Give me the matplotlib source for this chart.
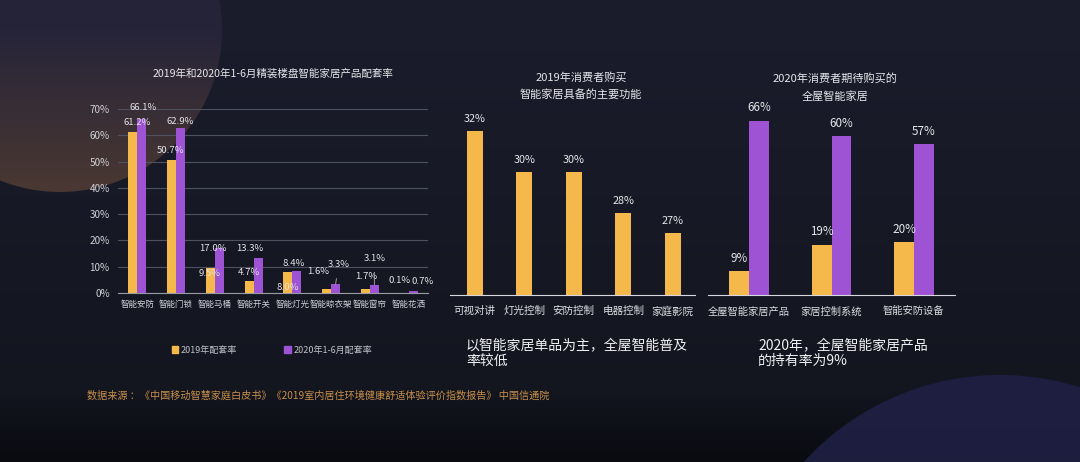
import matplotlib
matplotlib.use('Agg')
import matplotlib.pyplot as plt
import matplotlib.patches as mpatches
from matplotlib.colors import LinearSegmentedColormap
import numpy as np

plt.rcParams['font.family'] = ['Noto Sans CJK SC', 'DejaVu Sans']

# datos
productos = ['智能安防', '智能门锁', '智能马桶', '智能开关', '智能灯光', '智能晾衣架', '智能窗帘', '智能花洒']
tasa_2019 = [61.2, 50.7, 9.5, 4.7, 8.0, 1.6, 1.7, 0.1]
tasa_2020 = [66.1, 62.9, 17.0, 13.3, 8.4, 3.3, 3.1, 0.7]

funciones = ['可视对讲', '灯光控制', '安防控制', '电器控制', '家庭影院']
pct_funciones = [32, 30, 30, 28, 27]

sistemas = ['全屋智能家居产品', '家居控制系统', '智能安防设备']
pct_poseen = [9, 19, 20]
pct_esperan = [66, 60, 57]

W, H = 1080, 462
NARANJA = '#f5b84a'
MORADO = '#9d53d4'
GRIS = '#cfcfd6'

fig = plt.figure(figsize=(W / 100, H / 100), dpi=100)
fig.patch.set_facecolor('#151826')

# fondo
bg = fig.add_axes([0, 0, 1, 1], zorder=-10)
bg.set_xlim(0, W)
bg.set_ylim(H, 0)
bg.axis('off')
grad = np.linspace(0, 1, 256)[:, None]
cmap = LinearSegmentedColormap.from_list('fondo', [(0, '#1b1d2d'), (0.85, '#13151f'), (1.0, '#0a0b10')])
bg.imshow(grad, cmap=cmap, aspect='auto', extent=[0, W, H, 0])


def esfera(centro, radio, colores):
    cx, cy = centro
    circ = mpatches.Circle(centro, radio, transform=bg.transData, fc='none', lw=0)
    bg.add_patch(circ)
    im = bg.imshow(grad, cmap=LinearSegmentedColormap.from_list('e', colores), aspect='auto',
                   extent=[cx - radio, cx + radio, cy + radio, cy - radio])
    im.set_clip_path(circ)


esfera((60, 30), 162, ['#1f2036', '#262439', '#4a3832'])
esfera((1000, 640), 265, ['#1f1f42', '#1a1a38', '#15152c'])
bg.set_xlim(0, W)
bg.set_ylim(H, 0)


def caja_px(x0, y0, x1, y1):
    return [x0 / W, 1 - y1 / H, (x1 - x0) / W, (y1 - y0) / H]


def texto(x, y, s, **kw):
    fig.text(x / W, 1 - y / H, s, **kw)


def limpiar(ax):
    ax.set_facecolor('none')
    for lado in ['top', 'right', 'left']:
        ax.spines[lado].set_visible(False)


# ---- grafico 1 ----
ax1 = fig.add_axes(caja_px(118, 109, 428, 293))
limpiar(ax1)
ax1.spines['bottom'].set_color('#9a9aa2')
x = np.arange(len(productos))
ax1.bar(x - 0.115, tasa_2019, 0.23, color=NARANJA, zorder=3)
ax1.bar(x + 0.115, tasa_2020, 0.23, color=MORADO, zorder=3)
ax1.set_xlim(-0.5, len(productos) - 0.5)
ax1.set_ylim(0, 70)
ax1.set_yticks(range(0, 80, 10))
ax1.set_yticklabels([f'{v}%' for v in range(0, 80, 10)])
ax1.yaxis.grid(True, color='#4d5160', lw=0.8)
ax1.set_axisbelow(True)
ax1.set_xticks(x)
ax1.set_xticklabels(productos, fontsize=6.1)
ax1.tick_params(axis='y', colors=GRIS, labelsize=7.2, length=0, pad=6)
ax1.tick_params(axis='x', colors=GRIS, length=0, pad=5)

desp_2019 = [(4, 10), (-1, 9), (-1, -5), (0, 8), (0, -16), (-8, 17), (1, 12), (-5, 12)]
desp_2020 = [(1, 12), (0, 6), (-6, 0), (-8, 10), (-3, 7), (3, 20), (0, 26), (10, 10)]
for i, v in enumerate(tasa_2019):
    ax1.annotate(f'{v:.1f}%', (i - 0.115, v), xytext=desp_2019[i], textcoords='offset pixels',
                 ha='center', va='center', fontsize=6.9, color='#e2e2e6', zorder=5)
for i, v in enumerate(tasa_2020):
    guia = dict(arrowstyle='-', color='#a8a8b0', lw=0.6, shrinkA=5, shrinkB=0) if i in (5, 6) else None
    ax1.annotate(f'{v:.1f}%', (i + 0.115, v), xytext=desp_2020[i], textcoords='offset pixels',
                 ha='center', va='center', fontsize=6.9, color='#e2e2e6', zorder=5, arrowprops=guia)

texto(273, 74, '2019年和2020年1-6月精装楼盘智能家居产品配套率', ha='center', va='center',
      fontsize=7.6, color='#e6e6ea')
fig.legend(handles=[mpatches.Patch(color=NARANJA, label='2019年配套率'),
                    mpatches.Patch(color=MORADO, label='2020年1-6月配套率')],
           loc='center', bbox_to_anchor=(272 / W, 1 - 350 / H), ncol=2, frameon=False,
           fontsize=6.5, labelcolor='#c0c0c8', handlelength=0.7, handleheight=0.7,
           handletextpad=0.3, columnspacing=5.2)

# ---- grafico 2 ----
ax2 = fig.add_axes(caja_px(450, 110, 695, 295))
limpiar(ax2)
ax2.spines['bottom'].set_color('#d8d8de')
x2 = np.arange(len(funciones))
ax2.bar(x2, pct_funciones, 0.32, color=NARANJA)
ax2.set_xlim(-0.5, len(funciones) - 0.55)
ax2.set_ylim(24, 33)
ax2.set_yticks([])
ax2.set_xticks(x2)
ax2.set_xticklabels(funciones, fontsize=7.6)
ax2.tick_params(axis='x', colors='#dcdce2', length=0, pad=8)
for i, v in enumerate(pct_funciones):
    ax2.annotate(f'{v}%', (i, v), xytext=(0, 12), textcoords='offset pixels',
                 ha='center', va='center', fontsize=7.8, color='#e6e6ea')
texto(581, 77, '2019年消费者购买', ha='center', va='center', fontsize=8, color='#e6e6ea')
texto(581, 95, '智能家居具备的主要功能', ha='center', va='center', fontsize=8, color='#e6e6ea')
texto(466, 338, '以智能家居单品为主，全屋智能普及\n率较低', ha='left', va='top',
      fontsize=10, color='#f0f0f2', linespacing=1.2)

# ---- grafico 3 ----
ax3 = fig.add_axes(caja_px(708, 110, 955, 295))
limpiar(ax3)
ax3.spines['bottom'].set_color('#d8d8de')
x3 = np.arange(len(sistemas))
ax3.bar(x3 - 0.12, pct_poseen, 0.24, color=NARANJA)
ax3.bar(x3 + 0.12, pct_esperan, 0.24, color=MORADO)
ax3.set_xlim(-0.5, len(sistemas) - 0.5)
ax3.set_ylim(0, 70)
ax3.set_yticks([])
ax3.set_xticks(x3)
ax3.set_xticklabels(sistemas, fontsize=7.4)
ax3.tick_params(axis='x', colors='#dcdce2', length=0, pad=8)
for i, v in enumerate(pct_poseen):
    ax3.annotate(f'{v}%', (i - 0.12, v), xytext=(0, 13), textcoords='offset pixels',
                 ha='center', va='center', fontsize=8.4, color='#e6e6ea')
for i, v in enumerate(pct_esperan):
    ax3.annotate(f'{v}%', (i + 0.12, v), xytext=(0, 13), textcoords='offset pixels',
                 ha='center', va='center', fontsize=8.4, color='#e6e6ea')
texto(835, 78, '2020年消费者期待购买的', ha='center', va='center', fontsize=8, color='#e6e6ea')
texto(835, 97, '全屋智能家居', ha='center', va='center', fontsize=8, color='#e6e6ea')
texto(758, 338, '2020年，全屋智能家居产品\n的持有率为9%', ha='left', va='top',
      fontsize=10, color='#f0f0f2', linespacing=1.2)

# fuente
texto(87, 396, '数据来源 ：《中国移动智慧家庭白皮书》《2019室内居住环境健康舒适体验评价指数报告》 中国信通院',
      ha='left', va='center', fontsize=7.3, color='#c8904a')

plt.savefig('out.png', dpi=100, facecolor=fig.get_facecolor())
plt.close()
